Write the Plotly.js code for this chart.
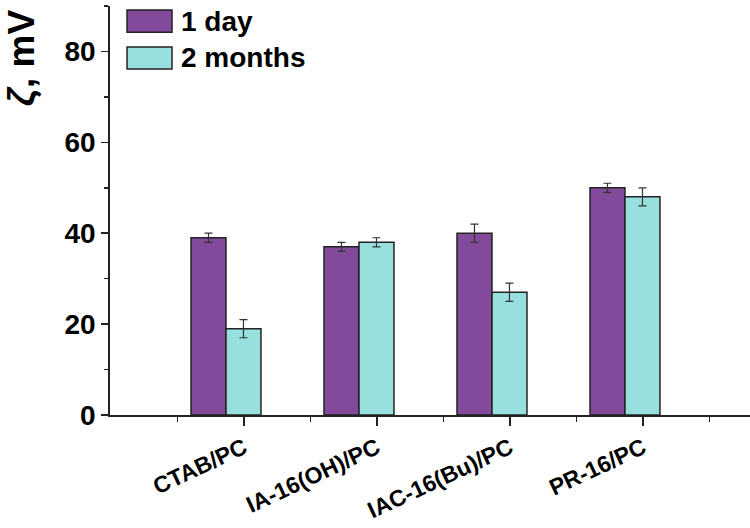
<!DOCTYPE html>
<html>
<head>
<meta charset="utf-8">
<script src="https://cdn.plot.ly/plotly-3.0.1.min.js"></script>
<style>
  html, body { margin: 0; padding: 0; background: #fff; }
  #chart { width: 750px; height: 528px; }
</style>
</head>
<body>
<div id="chart"></div>
<script>
var samples = ['CTAB/PC', 'IA-16(OH)/PC', 'IAC-16(Bu)/PC', 'PR-16/PC'];
var pos = [0, 1, 2, 3];
var day1 = [39, 37, 40, 50];
var day1Err = [1, 1, 2, 1];
var months2 = [19, 38, 27, 48];
var months2Err = [2, 1, 2, 2];

var FONT = 'Liberation Sans, Arial, sans-serif';

var trace1 = {
  x: pos,
  y: day1,
  name: '1 day',
  type: 'bar',
  marker: { color: '#834a9b', line: { color: '#222', width: 1.5 } },
  error_y: { type: 'data', array: day1Err, color: '#333', thickness: 1.2, width: 4 }
};
var trace2 = {
  x: pos,
  y: months2,
  name: '2 months',
  type: 'bar',
  marker: { color: '#97e0dd', line: { color: '#222', width: 1.5 } },
  error_y: { type: 'data', array: months2Err, color: '#333', thickness: 1.2, width: 4 }
};

// label ticks sit a bit right of the group centres, like the original
var tickPos = pos.map(function (p) { return p + 0.135; });

var layout = {
  width: 750,
  height: 528,
  margin: { l: 110, r: 0, t: 6, b: 113 },
  paper_bgcolor: '#fff',
  plot_bgcolor: '#fff',
  barmode: 'group',
  bargap: 0.474,
  bargroupgap: 0,
  showlegend: false,
  font: { family: FONT, color: '#000' },
  xaxis: {
    range: [-0.872, 3.94],
    tickmode: 'array',
    tickvals: tickPos,
    ticktext: samples,
    tickangle: -25,
    tickfont: { family: FONT, size: 23, weight: 'bold', color: '#000' },
    ticks: 'outside',
    ticklen: 9,
    tickwidth: 1.5,
    tickcolor: '#222',
    minor: { tick0: -0.365, dtick: 1, ticks: 'outside', ticklen: 5, tickwidth: 1.5, tickcolor: '#222' },
    showline: true,
    linecolor: '#222',
    linewidth: 1.8,
    showgrid: false,
    zeroline: false
  },
  yaxis: {
    range: [0, 90],
    tickmode: 'array',
    tickvals: [0, 20, 40, 60, 80],
    tickfont: { family: FONT, size: 28, weight: 'bold', color: '#000' },
    ticks: 'outside',
    ticklen: 7,
    tickwidth: 1.5,
    tickcolor: '#222',
    minor: { dtick: 10, ticks: 'outside', ticklen: 4, tickwidth: 1.5, tickcolor: '#222' },
    showline: true,
    linecolor: '#222',
    linewidth: 1.8,
    showgrid: false,
    zeroline: false
  },
  shapes: [
    { type: 'rect', xref: 'paper', yref: 'paper', x0: 0.0266, x1: 0.0969, y0: 0.936, y1: 0.990,
      fillcolor: '#834a9b', line: { color: '#222', width: 1.5 } },
    { type: 'rect', xref: 'paper', yref: 'paper', x0: 0.0266, x1: 0.0969, y0: 0.846, y1: 0.900,
      fillcolor: '#97e0dd', line: { color: '#222', width: 1.5 } }
  ],
  annotations: [
    { xref: 'paper', yref: 'paper', x: 0.108, y: 0.963, xanchor: 'left', yanchor: 'middle',
      text: '1 day', showarrow: false, font: { family: FONT, size: 28, weight: 'bold', color: '#000' } },
    { xref: 'paper', yref: 'paper', x: 0.108, y: 0.873, xanchor: 'left', yanchor: 'middle',
      text: '2 months', showarrow: false, font: { family: FONT, size: 28, weight: 'bold', color: '#000' } },
    { xref: 'paper', yref: 'paper', x: -0.138, y: 0.874, xanchor: 'center', yanchor: 'middle',
      textangle: -90, text: '<i>ζ</i>, mV', showarrow: false,
      font: { family: FONT, size: 37, weight: 'bold', color: '#000' } }
  ]
};

Plotly.newPlot('chart', [trace1, trace2], layout, { displayModeBar: false, staticPlot: true });
</script>
</body>
</html>
